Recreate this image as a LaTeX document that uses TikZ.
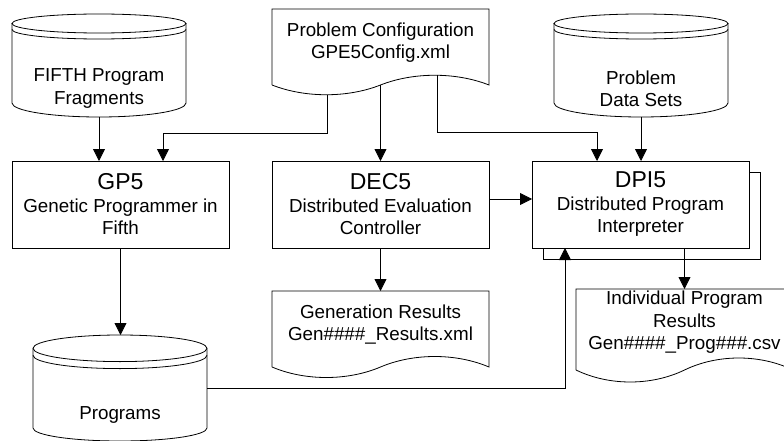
\documentclass[tikz,border=0pt]{standalone}
\usepackage{fontspec}
\setmainfont{Liberation Sans}
\usetikzlibrary{arrows.meta,calc,positioning}

% outline of a data store (cylinder) round a named node
% #1 node, #2 half width, #3 top radius, #4 lip gap, #5 bottom radius
\newcommand{\drawstore}[5]{%
  \draw[line width=0.8pt] ($(#1.north)+(0,-#3)$) ellipse[x radius=#2pt, y radius=#3pt];
  \draw[line width=0.8pt] ($(#1.north west)+(0,-#3-#4)$) arc[start angle=180, end angle=360, x radius=#2pt, y radius=#3pt];
  \draw[line width=0.8pt] ($(#1.north west)+(0,-#3)$) -- ($(#1.south west)+(0,#5)$)
    arc[start angle=180, end angle=360, x radius=#2pt, y radius=#5pt] -- ($(#1.north east)+(0,-#3)$);
}
% outline of a document (wavy bottom) round a named node
% #1 node, #2 control offset, #3 wave height
\newcommand{\drawdoc}[3]{%
  \draw[line width=0.8pt] (#1.south west) -- (#1.north west) -- (#1.north east) -- (#1.south east)
    .. controls +(-#2,#3) and +(#2,#3) .. (#1.south)
    .. controls +(-#2,-#3) and +(#2,-#3) .. (#1.south west);
}
\newcommand{\boxtitle}[1]{{\fontsize{23}{26}\selectfont #1}}

\tikzset{
  procbox/.style={draw, line width=0.8pt, fill=white, minimum width=217pt, minimum height=87pt,
    inner sep=0pt, outer sep=0pt, align=center},
  storebox/.style={minimum width=174pt, inner sep=0pt, outer sep=0pt},
  docbox/.style={minimum width=217pt, inner sep=0pt, outer sep=0pt},
  txt/.style={align=center, inner sep=0pt},
  flow/.style={-{Triangle[length=12pt,width=12pt]}, line width=0.8pt},
}

\begin{document}
\begin{tikzpicture}[x=1pt, y=1pt, font=\fontsize{18.8}{22.5}\selectfont]
    \useasboundingbox (0,0) rectangle (784,-441);
    \clip (0,0) rectangle (784,-441);
    % Stores
    \node[storebox, minimum height=103pt] (frag) at (99,-65.5) {};
    \drawstore{frag}{87}{9.5}{6}{14}
    \node[txt] (fragtxt) at (99,-88.5) {FIFTH Program\\Fragments};
    \node[storebox, minimum height=103pt] (data) at (641,-65.5) {};
    \drawstore{data}{87}{9.5}{6}{14}
    \node[txt] (datatxt) at (641,-89) {Problem\\Data Sets};
    \node[storebox, minimum height=106pt] (prog) at (120,-388) {};
    \drawstore{prog}{87}{13.3}{7}{13}
    \node[txt] (progtxt) at (120,-415) {Programs};
    % Documents
    \node[docbox, minimum height=76pt] (cfg) at (380.5,-47) {};
    \drawdoc{cfg}{33}{13}
    \node[txt] (cfgtxt) at (380.5,-42.5) {Problem Configuration\\GPE5Config.xml};
    \node[docbox, minimum height=76pt] (gen) at (380.5,-329) {};
    \drawdoc{gen}{33}{14}
    \node[txt] (gentxt) at (380.5,-324.5) {Generation Results\\Gen\#\#\#\#\_Results.xml};
    \node[docbox, minimum height=81pt] (ind) at (684.5,-329.5) {};
    \drawdoc{ind}{33}{16}
    \node[txt] (indtxt) at (684.5,-322.5) {Individual Program\\Results\\Gen\#\#\#\#\_Prog\#\#\#.csv};
    % Processes
    \node[procbox] (gp) at (120.5,-204.5) {\boxtitle{GP5}\\Genetic Programmer in\\Fifth};
    \node[procbox] (dec) at (380.5,-204.5) {\boxtitle{DEC5}\\Distributed Evaluation\\Controller};
    \node[procbox] (dpiback) at (651.5,-215.5) {};
    \node[procbox] (dpi) at (640.5,-204.5) {\boxtitle{DPI5}\\Distributed Program\\Interpreter};
    % Flows
    \draw[flow] (frag.south) -- (frag.south |- gp.north);
    \draw[flow] ($(cfg.south west)+(55,-10)$) |- ($(gp.north)+(42.5,28)$) -- ($(gp.north)+(42.5,0)$);
    \draw[flow] (cfg.south) -- (dec.north);
    \draw[flow] ($(cfg.south east)+(-52,10)$) |- ($(dpi.north)+(-43.5,29)$) -- ($(dpi.north)+(-43.5,0)$);
    \draw[flow] (data.south) -- (data.south |- dpi.north);
    \draw[flow] ($(dec.east)+(0,5.5)$) -- ($(dpi.west)+(0,5.5)$);
    \draw[flow] (gp.south) -- (gp.south |- prog.north);
    \draw[flow] (dec.south) -- (gen.north);
    \draw[flow] (dpi.south -| ind.north) -- (ind.north);
    \draw[flow] (prog.east) -| ($(dpi.south)+(-75.5,0)$);
\end{tikzpicture}
\end{document}
